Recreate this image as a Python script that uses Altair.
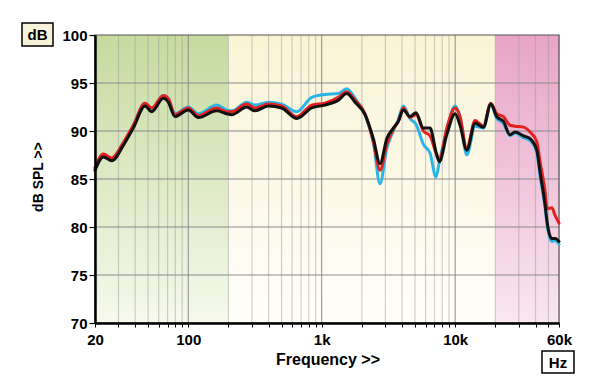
import altair as alt
import pandas as pd

# ---- data ----
freq_hz = [20, 23.1, 26.7, 32.6, 38.7, 47.4, 53.2, 65, 70.8, 79.5,
           100, 119, 163, 194, 212, 274, 316, 398, 501, 650,
           841, 1058, 1332, 1540, 1777, 2112, 2437, 2736, 3072, 3440,
           3750, 4090, 4590, 5090, 5780, 6480, 7190, 7610, 8650, 9980,
           10880, 12220, 14100, 16270, 18490, 20500, 22980, 25790, 28120, 32450,
           36440, 40890, 43290, 47200, 48900, 53000, 56100, 60000]

black_db = [85.9, 87.3, 86.9, 88.5, 90.3, 92.6, 92.0, 93.4, 93.0, 91.5,
            92.2, 91.4, 92.1, 91.8, 91.7, 92.5, 92.1, 92.6, 92.4, 91.3,
            92.4, 92.7, 93.2, 93.9, 93.0, 91.7, 89.2, 86.6, 89.2, 90.3,
            91.0, 92.2, 91.5, 91.9, 90.3, 90.3, 87.8, 86.8, 89.6, 91.8,
            90.6, 88.0, 90.8, 90.4, 92.8, 91.5, 91.0, 89.6, 89.9, 89.5,
            89.2, 88.0, 85.7, 82.3, 80.5, 78.8, 78.8, 78.5]

red_db = [86.2, 87.6, 87.2, 88.8, 90.6, 92.9, 92.4, 93.7, 93.4, 91.7,
          92.4, 91.6, 92.4, 92.0, 92.0, 92.8, 92.4, 92.8, 92.6, 91.5,
          92.7, 92.9, 93.5, 94.1, 93.2, 91.8, 88.9, 85.9, 88.6, 90.2,
          91.0, 92.4, 91.4, 91.7, 90.0, 89.5, 87.7, 87.0, 90.3, 92.4,
          91.5, 88.2, 91.1, 90.5, 92.9, 91.8, 91.5, 90.6, 90.5, 90.4,
          89.9, 88.9, 86.8, 83.7, 81.9, 82.0, 81.2, 80.4]

cyan_db = [86.1, 87.5, 87.1, 88.7, 90.5, 92.9, 92.3, 93.7, 93.4, 91.8,
           92.5, 91.8, 92.7, 92.2, 92.1, 93.0, 92.7, 93.0, 92.8, 92.0,
           93.5, 93.8, 93.9, 94.4, 93.4, 91.7, 88.8, 84.5, 88.2, 90.0,
           91.2, 92.6, 91.3, 90.7, 88.6, 87.7, 85.2, 86.8, 90.0, 92.6,
           91.5, 87.5, 90.5, 90.3, 92.8, 91.3, 90.8, 89.5, 89.8, 89.3,
           89.0, 87.8, 85.3, 82.0, 80.2, 78.5, 78.6, 78.2]

band_start = [20, 200, 20000]
band_end = [200, 20000, 60000]
band_top = ["#c6da9f", "#faf4d6", "#e8a4c7"]
band_bottom = ["#f6f9ec", "#fffef9", "#f9e7f0"]

minor_grid = [30, 40, 50, 60, 70, 80, 90,
              200, 300, 400, 500, 600, 700, 800, 900,
              2000, 3000, 4000, 5000, 6000, 7000, 8000, 9000,
              20000, 30000, 40000, 50000]
major_grid = [100, 1000, 10000]
x_ticks = [20] + minor_grid[:7] + [100] + minor_grid[7:15] + [1000] + minor_grid[15:23] + [10000] + minor_grid[23:] + [60000]
y_ticks = [70, 75, 80, 85, 90, 95, 100]

W, H = 464, 288
FONT = "Liberation Sans"

xs = alt.Scale(type="log", domain=[20, 60000], nice=False)
ys = alt.Scale(domain=[70, 100], nice=False, zero=False)

xaxis = alt.Axis(
    values=x_ticks,
    labelExpr="datum.value == 20 ? '20' : datum.value == 100 ? '100' : datum.value == 1000 ? '1k' : datum.value == 10000 ? '10k' : datum.value == 60000 ? '60k' : ''",
    grid=False, domainColor="black", domainWidth=2.5, tickColor="black",
    tickSize=4, tickWidth=1, labelFont=FONT, labelFontSize=15,
    labelFontWeight="bold", labelColor="black", labelPadding=5,
    labelOverlap=False, labelFlush=False, title=None, zindex=1)
yaxis = alt.Axis(
    values=y_ticks, grid=False, domainColor="black", domainWidth=2.5,
    tickColor="black", tickSize=6, tickWidth=1.2, labelFont=FONT,
    labelFontSize=15, labelFontWeight="bold", labelColor="black",
    labelPadding=2, labelOverlap=False, title=None, zindex=1)


def grad(top, bottom):
    return {"gradient": "linear", "x1": 0, "x2": 0, "y1": 0, "y2": 1,
            "stops": [{"offset": 0, "color": top}, {"offset": 1, "color": bottom}]}


layers = []
for i in range(3):
    df_b = pd.DataFrame({"f": [band_start[i]], "f2": [band_end[i]], "db": [100], "db2": [70]})
    layers.append(
        alt.Chart(df_b).mark_rect(fill=grad(band_top[i], band_bottom[i]), stroke=None).encode(
            x=alt.X("f:Q", scale=xs, axis=xaxis), x2="f2:Q",
            y=alt.Y("db:Q", scale=ys, axis=yaxis), y2="db2:Q"))

layers.append(
    alt.Chart(pd.DataFrame({"f": minor_grid})).mark_rule(color="#9a9a9a", opacity=0.45, strokeWidth=1.2).encode(
        x=alt.X("f:Q", scale=xs, axis=xaxis)))
layers.append(
    alt.Chart(pd.DataFrame({"f": major_grid})).mark_rule(color="#8a8a8a", strokeWidth=1).encode(
        x=alt.X("f:Q", scale=xs, axis=xaxis)))
layers.append(
    alt.Chart(pd.DataFrame({"db": y_ticks[1:-1]})).mark_rule(color="#8a8a8a", strokeWidth=1).encode(
        y=alt.Y("db:Q", scale=ys, axis=yaxis)))
layers.append(
    alt.Chart(pd.DataFrame({"a": [0]})).mark_rect(fillOpacity=0, stroke="#555555", strokeWidth=1.2).encode(
        x=alt.value(0), x2=alt.value(W), y=alt.value(0), y2=alt.value(H)))

rows = []
for name, vals in [("cyan", cyan_db), ("red", red_db), ("black", black_db)]:
    for f, v in zip(freq_hz, vals):
        rows.append({"f": f, "db": v, "s": name})
df_lines = pd.DataFrame(rows)
line_colors = {"cyan": "#2bb5e6", "red": "#e3211f", "black": "#111111"}
for name in ["cyan", "red", "black"]:
    layers.append(
        alt.Chart(df_lines).transform_filter(alt.datum.s == name).mark_line(
            color=line_colors[name], strokeWidth=3, interpolate="monotone",
            strokeJoin="round", strokeCap="round").encode(
            x=alt.X("f:Q", scale=xs, axis=xaxis),
            y=alt.Y("db:Q", scale=ys, axis=yaxis)))

one = pd.DataFrame({"a": [0]})
# unit boxes
layers.append(alt.Chart(one).mark_rect(fill="#f8f4da", stroke="black", strokeWidth=1.5).encode(
    x=alt.value(-73), x2=alt.value(-42), y=alt.value(-12), y2=alt.value(11)))
layers.append(alt.Chart(one).mark_text(text="dB", font=FONT, fontSize=15, fontWeight="bold",
                                       color="black", align="center", baseline="middle").encode(
    x=alt.value(-57.5), y=alt.value(0)))
layers.append(alt.Chart(one).mark_rect(fill="#ffffff", stroke="black", strokeWidth=1.5).encode(
    x=alt.value(447), x2=alt.value(479), y=alt.value(316), y2=alt.value(338)))
layers.append(alt.Chart(one).mark_text(text="Hz", font=FONT, fontSize=15, fontWeight="bold",
                                       color="black", align="center", baseline="middle").encode(
    x=alt.value(463), y=alt.value(327.5)))
# axis titles
layers.append(alt.Chart(one).mark_text(text="dB SPL >>", font=FONT, fontSize=14, fontWeight="bold",
                                       color="black", align="center", baseline="middle", angle=270).encode(
    x=alt.value(-56), y=alt.value(142)))
layers.append(alt.Chart(one).mark_text(text="Frequency >>", font=FONT, fontSize=16, fontWeight="bold",
                                       color="black", align="center", baseline="middle").encode(
    x=alt.value(233), y=alt.value(325)))

chart = alt.layer(*layers).properties(
    width=W, height=H, autosize="none",
    padding={"left": 87, "top": 27, "right": 30, "bottom": 55},
).configure_view(stroke=None).configure(background="white")

chart.save("out.html", embed_options={"renderer": "svg", "actions": False})
